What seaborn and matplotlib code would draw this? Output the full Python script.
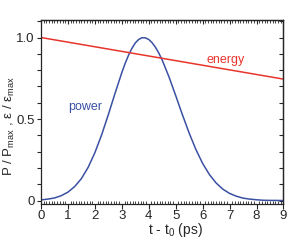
import numpy as np
import pandas as pd
import matplotlib
matplotlib.use("Agg")
import matplotlib.pyplot as plt
from matplotlib.ticker import MultipleLocator
import seaborn as sns

# power pulse (normalised)
t_power = [0.0, 0.25, 0.5, 0.75, 1.0, 1.25, 1.5, 1.75, 2.0, 2.25, 2.5, 2.75,
           3.0, 3.125, 3.25, 3.375, 3.5, 3.625, 3.75, 3.875, 4.0, 4.125,
           4.25, 4.375, 4.5, 4.75, 5.0, 5.25, 5.5, 5.75,
           6.0, 6.25, 6.5, 6.75, 7.0, 7.25, 7.5, 7.75, 8.0, 8.25, 8.5, 8.75, 9.0]
power = [0.004, 0.009, 0.016, 0.030, 0.052, 0.086, 0.135, 0.204, 0.294, 0.403,
         0.528, 0.659, 0.785, 0.842, 0.892, 0.934, 0.967, 0.988, 0.999, 0.998,
         0.988, 0.968, 0.940, 0.904, 0.861, 0.759,
         0.644, 0.526, 0.414, 0.313, 0.228, 0.160, 0.108, 0.070, 0.044, 0.027,
         0.015, 0.009, 0.005, 0.002, 0.001, 0.001, 0.000]

# stored energy, linear decay
t_energy = [0.0, 9.0]
energy = [1.0, 0.745]

blue = "#3a50a2"
red = "#e8352c"

sns.set_style("ticks")
plt.rcParams["font.family"] = ["Liberation Sans", "DejaVu Sans"]
plt.rcParams["mathtext.fontset"] = "custom"
plt.rcParams["mathtext.rm"] = "Liberation Sans"
plt.rcParams["mathtext.it"] = "Liberation Sans"

df_p = pd.DataFrame({"t": t_power, "v": power})
df_e = pd.DataFrame({"t": t_energy, "v": energy})

fig = plt.figure(figsize=(2.91, 2.40), dpi=100)
ax = fig.add_axes([0.141, 0.152, 0.833, 0.765])

sns.lineplot(data=df_p, x="t", y="v", color=blue, lw=1.1, ax=ax)
sns.lineplot(data=df_e, x="t", y="v", color=red, lw=1.1, ax=ax)

ax.text(1.65, 0.575, "power", color=blue, fontsize=9, ha="center", va="center")
ax.text(6.87, 0.86, "energy", color=red, fontsize=9, ha="center", va="center")

ax.set_xlim(0, 9)
ax.set_ylim(-0.018, 1.108)
ax.xaxis.set_major_locator(MultipleLocator(1))
ax.xaxis.set_minor_locator(MultipleLocator(0.1))
ax.yaxis.set_minor_locator(MultipleLocator(0.1))
ax.set_yticks([0, 0.5, 1.0])
ax.set_yticklabels(["0", "0.5", "1.0"])

ax.tick_params(axis="x", which="major", direction="out", length=3.5, width=0.8,
               labelsize=9.5, pad=1.5)
ax.tick_params(axis="x", which="minor", direction="in", length=2, width=0.6)
ax.tick_params(axis="y", which="both", direction="out", length=3, width=0.8,
               labelsize=9.5, pad=1.5)

top = ax.secondary_xaxis("top")
top.xaxis.set_major_locator(MultipleLocator(1))
top.xaxis.set_minor_locator(MultipleLocator(0.1))
top.tick_params(which="major", direction="in", length=3, width=0.8, labeltop=False)
top.tick_params(which="minor", direction="in", length=2, width=0.6)

right = ax.secondary_yaxis("right")
right.yaxis.set_major_locator(MultipleLocator(0.1))
right.tick_params(which="major", direction="in", length=3, width=0.8, labelright=False)

for s in ax.spines.values():
    s.set_linewidth(0.9)
top.spines["top"].set_linewidth(0.9)
right.spines["right"].set_linewidth(0.9)

ax.set_xlabel("t - t$_0$ (ps)", fontsize=10)
ax.xaxis.set_label_coords(0.553, -0.097)
ax.set_ylabel("P / P$_{max}$ , ε / ε$_{max}$", fontsize=9.5)
ax.yaxis.set_label_coords(-0.1, 0.42)

fig.savefig("out.png", dpi=100)
